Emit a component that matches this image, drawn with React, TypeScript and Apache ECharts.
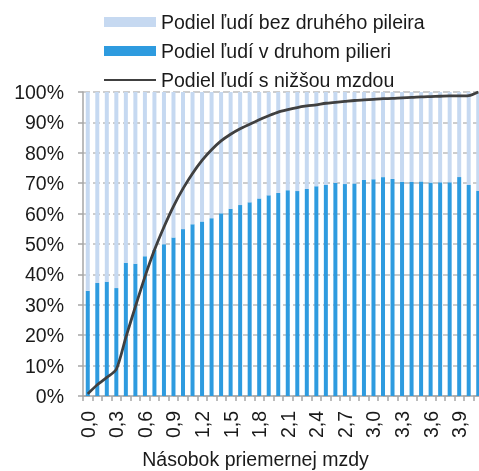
import React, { useEffect, useRef } from "react";
import * as echarts from "echarts";

const categories = [
  "0,0", "0,1", "0,2", "0,3", "0,4", "0,5", "0,6", "0,7", "0,8", "0,9",
  "1,0", "1,1", "1,2", "1,3", "1,4", "1,5", "1,6", "1,7", "1,8", "1,9",
  "2,0", "2,1", "2,2", "2,3", "2,4", "2,5", "2,6", "2,7", "2,8", "2,9",
  "3,0", "3,1", "3,2", "3,3", "3,4", "3,5", "3,6", "3,7", "3,8", "3,9",
  "4,0", "4,1",
];

// Podiel ľudí v druhom pilieri (%)
const inPillar = [
  34.6, 37.2, 37.6, 35.5, 43.8, 43.5, 46.0, 48.0, 49.9, 52.1,
  54.9, 56.5, 57.4, 58.5, 60.1, 61.6, 62.8, 63.7, 65.0, 66.0,
  66.8, 67.7, 67.4, 68.1, 69.0, 69.4, 70.1, 69.7, 69.9, 71.1,
  71.3, 72.0, 71.4, 70.5, 70.4, 70.6, 70.2, 70.3, 70.3, 72.0,
  69.4, 67.5,
];

// Podiel ľudí bez druhého piliera (%)
const withoutPillar = [
  65.4, 62.8, 62.4, 64.5, 56.2, 56.5, 54.0, 52.0, 50.1, 47.9,
  45.1, 43.5, 42.6, 41.5, 39.9, 38.4, 37.2, 36.3, 35.0, 34.0,
  33.2, 32.3, 32.6, 31.9, 31.0, 30.6, 29.9, 30.3, 30.1, 28.9,
  28.7, 28.0, 28.6, 29.5, 29.6, 29.4, 29.8, 29.7, 29.7, 28.0,
  30.6, 32.5,
];

// Podiel ľudí s nižšou mzdou (%)
const lowerWage = [
  0.7, 3.7, 6.1, 8.8, 19.3, 29.4, 39.2, 48.0, 55.6, 62.4,
  68.2, 73.2, 77.5, 81.0, 83.9, 86.1, 87.9, 89.4, 90.9, 92.2,
  93.4, 94.2, 94.9, 95.4, 95.8, 96.3, 96.6, 96.9, 97.2, 97.4,
  97.6, 97.8, 97.9, 98.1, 98.2, 98.4, 98.5, 98.6, 98.7, 98.7,
  98.8, 100,
];

const NAME_WITHOUT = "Podiel ľudí bez druhého pileira";
const NAME_IN = "Podiel ľudí v druhom pilieri";
const NAME_LINE = "Podiel ľudí s nižšou mzdou";

const FONT = "Liberation Sans";
const TEXT = "#1a1a1a";
const AXIS = "#a6a6a6";

export default function App() {
  const ref = useRef<HTMLDivElement>(null);
  useEffect(() => {
    if (!ref.current) return;
    const chart = echarts.init(ref.current, null, { renderer: "svg" });
    chart.setOption({
      animation: false,
      textStyle: { fontFamily: FONT },
      legend: {
        orient: "vertical",
        left: 103,
        top: 12,
        padding: 0,
        itemWidth: 52,
        itemHeight: 10,
        itemGap: 9,
        textStyle: { fontSize: 19.5, color: TEXT, fontFamily: FONT },
        data: [
          { name: NAME_WITHOUT, icon: "rect" },
          { name: NAME_IN, icon: "rect" },
          {
            name: NAME_LINE,
            itemStyle: { color: "rgba(0,0,0,0)", borderColor: "rgba(0,0,0,0)", borderWidth: 0 },
          },
        ],
      },
      grid: {
        left: 83,
        top: 92,
        width: 400,
        height: 304,
        containLabel: false,
        outerBoundsMode: "none",
      },
      xAxis: {
        type: "category",
        data: categories,
        boundaryGap: true,
        axisLine: { lineStyle: { color: AXIS, width: 1.5 } },
        axisTick: { show: true, interval: 0, length: 5, lineStyle: { color: AXIS, width: 1.5 } },
        axisLabel: { interval: 2, rotate: 90, margin: 15, fontSize: 19.5, color: TEXT, fontFamily: FONT },
        name: "Násobok priemernej mzdy",
        nameLocation: "middle",
        nameGap: 53,
        nameTextStyle: {
          fontSize: 19.5,
          lineHeight: 20,
          color: TEXT,
          fontFamily: FONT,
          padding: [0, 55, 0, 0],
        },
      },
      yAxis: {
        type: "value",
        min: 0,
        max: 100,
        interval: 10,
        axisLine: { show: true, lineStyle: { color: AXIS, width: 1.5 } },
        axisTick: { show: true, length: 5, lineStyle: { color: AXIS, width: 1.5 } },
        axisLabel: { formatter: "{value}%", margin: 19, fontSize: 19.5, color: TEXT, fontFamily: FONT },
        splitLine: { show: true, lineStyle: { color: "#bdbdbd", type: [7, 3], width: 1.6 } },
      },
      series: [
        {
          name: NAME_IN,
          type: "bar",
          stack: "total",
          data: inPillar,
          barWidth: 4,
          itemStyle: { color: "#2E9BDF" },
        },
        {
          name: NAME_WITHOUT,
          type: "bar",
          stack: "total",
          data: withoutPillar,
          barWidth: 4,
          itemStyle: { color: "#C6D9F1" },
        },
        {
          name: NAME_LINE,
          type: "line",
          data: lowerWage,
          symbol: "none",
          showSymbol: false,
          smooth: 0.25,
          z: 5,
          lineStyle: { color: "#404040", width: 2.8 },
          itemStyle: { color: "#404040" },
        },
      ],
    });
    return () => chart.dispose();
  }, []);
  return (
    <div
      ref={ref}
      style={{ position: "fixed", left: 0, top: 0, width: 479, height: 471 }}
    />
  );
}
